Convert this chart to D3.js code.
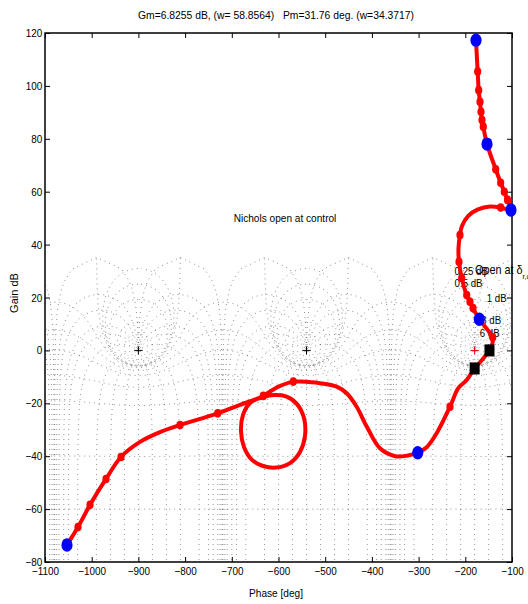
<!DOCTYPE html>
<html>
<head>
<meta charset="utf-8">
<script src="https://cdn.jsdelivr.net/npm/d3@7"></script>
<style>
  body { margin: 0; background: #fff; }
  text { font-family: Arial, "Liberation Sans", Helvetica, sans-serif; fill: #000; white-space: pre; }
</style>
</head>
<body>
<svg id="chart" width="528" height="604"></svg>
<script>
// Open-loop Nichols curve (phase deg, gain dB), low to high frequency
const curvePhase = [-177.1, -173.5, -171.3, -168.5, -166.4, -164.3, -161.5, -153.5, -134.9, -124.2,
  -116.5, -109.6, -102.2, -124.2, -147.1, -172.8, -194.2, -207.1, -211.4, -214.6,
  -213.5, -207.7, -197.0, -190.0, -183.5, -170.0, -155.7, -141.3, -142.8, -148.2,
  -164.3, -180.0, -197.0, -215.0, -232.8, -261.3, -282.7, -301.9, -325.0, -350.0,
  -382.7, -411.1, -432.6, -454.0, -475.4, -511.1, -554.0, -568.3, -601.1, -632.6,
  -661.0, -676.0, -680.3, -673.9, -656.7, -633.2, -605.4, -575.4, -554.0, -543.3,
  -545.4, -560.4, -584.0, -609.6, -632.6, -682.5, -730.2, -768.1, -810.9, -853.8,
  -896.6, -937.3, -969.4, -1003.6, -1029.3, -1042.2, -1052.9];
const curveGain = [117.3, 105.4, 98.4, 94.0, 90.2, 87.1, 84.6, 78.0, 68.5, 63.4,
  60.0, 56.9, 53.1, 54.0, 54.4, 53.3, 50.8, 47.0, 43.6, 38.7,
  33.5, 27.4, 20.9, 18.4, 16.0, 11.8, 8.5, 5.0, 2.0, 0.0,
  -3.6, -6.8, -11.2, -14.3, -21.3, -31.3, -36.6, -38.7, -39.8, -40.0,
  -37.0, -28.8, -21.3, -16.2, -13.7, -12.4, -11.8, -11.8, -13.8, -17.2,
  -19.9, -24.4, -30.5, -36.5, -41.4, -43.7, -44.3, -42.6, -38.4, -32.4,
  -25.6, -20.3, -17.4, -16.9, -17.6, -20.6, -23.8, -25.9, -28.2, -30.9,
  -34.6, -40.3, -48.6, -58.4, -66.8, -70.5, -73.6];

// red frequency markers
const markPhase = [-173.5, -171.3, -168.5, -166.4, -164.3, -161.5, -134.9, -124.2, -116.5, -109.6,
  -124.2, -211.4, -213.5, -207.7, -197.0, -190.0, -183.5, -141.3, -232.8, -568.3,
  -632.6, -730.2, -810.9, -937.3, -969.4, -1003.6, -1029.3];
const markGain = [105.4, 98.4, 94.0, 90.2, 87.1, 84.6, 68.5, 63.4, 60.0, 56.9,
  54.0, 43.6, 33.5, 27.4, 20.9, 18.4, 16.0, 5.0, -21.3, -11.8,
  -17.2, -23.8, -28.2, -40.3, -48.6, -58.4, -66.8];

// blue decade markers
const bluePhase = [-177.1, -153.5, -102.2, -170.0, -301.9, -1052.9];
const blueGain = [117.3, 78.0, 53.1, 11.8, -38.7, -73.6];

// stability margin points (Pm crossing, Gm crossing)
const marginPhase = [-148.24, -180];
const marginGain = [0, -6.8255];

// Nichols grid contours
const gridGains = [6, 3, 1, 0.5, 0.25, 0, -1, -3, -6, -12, -20, -40, -60, -80];
const gridPhases = [1, 5, 10, 20, 30, 50, 90, 120, 150, 180];
const gridShifts = [0, -360, -720, -1080];
const critPhase = [-900, -540, -180];

const gainLabels = ['0.25 dB', '0.5 dB', '1 dB', '3 dB', '6 dB'];
const gainLabelPhase = [-223, -223, -154, -166, -169];
const gainLabelGain = [28.6, 23.9, 18.3, 9.8, 5.1];

const xTicks = d3.range(-1100, -99, 100);
const yTicks = d3.range(-80, 121, 20);

const margin = { top: 33, right: 16, bottom: 42, left: 45 };
const width = 528 - margin.left - margin.right;
const height = 604 - margin.top - margin.bottom;

const svg = d3.select('#chart');
const g = svg.append('g').attr('transform', `translate(${margin.left},${margin.top})`);

const x = d3.scaleLinear().domain([-1100, -100]).range([0, width]);
const y = d3.scaleLinear().domain([-80, 120]).range([height, 0]);

// clip for grid: plot box, grid stops at the top of the 1 deg phase contour
svg.append('defs').append('clipPath').attr('id', 'gridclip')
  .append('rect')
  .attr('x', 0).attr('y', y(35.3))
  .attr('width', width).attr('height', height - y(35.3));

// open loop point from closed loop magnitude / phase
function openLoop(M, phiDeg) {
  const t = phiDeg * Math.PI / 180;
  const tr = M * Math.cos(t), ti = M * Math.sin(t);
  const dr = 1 - tr, di = -ti;
  const den = dr * dr + di * di;
  const gr = (tr * dr + ti * di) / den;
  const gi = (ti * dr - tr * di) / den;
  let p = Math.atan2(gi, gr) * 180 / Math.PI;
  if (p > 0) p -= 360;
  return [p, 20 * Math.log10(Math.hypot(gr, gi))];
}

// split a contour where the phase wraps
function splitWraps(pts) {
  const out = [];
  let cur = [];
  pts.forEach((d, i) => {
    if (i > 0 && Math.abs(d[0] - pts[i - 1][0]) > 90) { out.push(cur); cur = []; }
    if (isFinite(d[1])) cur.push(d);
  });
  out.push(cur);
  return out.filter(c => c.length > 1);
}

const contours = [];
gridGains.forEach(db => {
  const M = Math.pow(10, db / 20);
  const pts = d3.range(0.05, 360, 0.25).map(phi => openLoop(M, phi));
  contours.push(...splitWraps(pts));
});
gridPhases.forEach(ph => {
  const mags = d3.range(-5, 5, 0.01).map(e => Math.pow(10, e));
  [ph, -ph].forEach((s, j) => {
    if (ph === 180 && j === 1) return;
    contours.push(...splitWraps(mags.map(M => openLoop(M, s))));
  });
});

const gridLayer = g.append('g').attr('clip-path', 'url(#gridclip)');
gridShifts.forEach(shift => {
  const line = d3.line().x(d => x(d[0] + shift)).y(d => y(d[1]));
  gridLayer.selectAll(null)
    .data(contours)
    .enter()
    .append('path')
    .attr('d', line)
    .attr('fill', 'none')
    .attr('stroke', '#000')
    .attr('stroke-width', 0.7)
    .attr('stroke-dasharray', '0.8,4.2')
    .attr('opacity', 0.8);
});

// grid gain labels
g.selectAll('.glabel')
  .data(gainLabels)
  .enter()
  .append('text')
  .attr('class', 'glabel')
  .attr('transform', (d, i) => `translate(${x(gainLabelPhase[i])},${y(gainLabelGain[i])}) scale(0.88,1)`)
  .style('font-size', '11px')
  .text(d => d);

// critical point crosses
g.selectAll('.crit')
  .data(critPhase)
  .enter()
  .append('path')
  .attr('class', 'crit')
  .attr('d', d => `M${x(d) - 4},${y(0)}H${x(d) + 4}M${x(d)},${y(0) - 4}V${y(0) + 4}`)
  .attr('stroke', d => d === -180 ? '#e00000' : '#000')
  .attr('stroke-width', 1);

// axes: ticks inside on all four sides
const fmt = d => (d < 0 ? '\u2212' + Math.abs(d) : d);
const xAxis = g.append('g')
  .attr('transform', `translate(0,${height})`)
  .call(d3.axisBottom(x).tickValues(xTicks).tickSizeInner(-5).tickSizeOuter(0).tickPadding(5).tickFormat(fmt));
const yAxis = g.append('g')
  .call(d3.axisLeft(y).tickValues(yTicks).tickSizeInner(-5).tickSizeOuter(0).tickPadding(3).tickFormat(fmt));
g.append('g')
  .call(d3.axisTop(x).tickValues(xTicks).tickSizeInner(-5).tickSizeOuter(0).tickFormat(''));
g.append('g')
  .attr('transform', `translate(${width},0)`)
  .call(d3.axisRight(y).tickValues(yTicks).tickSizeInner(-5).tickSizeOuter(0).tickFormat(''));

g.selectAll('.domain').remove();
g.selectAll('.tick line').attr('stroke', '#000').attr('stroke-width', 1);
[xAxis, yAxis].forEach(a => a.selectAll('text')
  .style('font-size', '11px')
  .style('font-family', 'Arial, "Liberation Sans", sans-serif')
  .attr('transform', 'scale(0.9,1)'));

g.append('rect')
  .attr('width', width).attr('height', height)
  .attr('fill', 'none').attr('stroke', '#000').attr('stroke-width', 1.5);

// Nichols curve
const curve = curvePhase.map((p, i) => [p, curveGain[i]]);
g.append('path')
  .datum(curve)
  .attr('d', d3.line().x(d => x(d[0])).y(d => y(d[1])).curve(d3.curveCatmullRom.alpha(0.5)))
  .attr('fill', 'none')
  .attr('stroke', '#ff0000')
  .attr('stroke-width', 4)
  .attr('stroke-linejoin', 'round');

g.selectAll('.mark')
  .data(markPhase)
  .enter()
  .append('ellipse')
  .attr('cx', d => x(d))
  .attr('cy', (d, i) => y(markGain[i]))
  .attr('rx', 3.6).attr('ry', 4.3)
  .attr('fill', '#ff0000');

g.selectAll('.blue')
  .data(bluePhase)
  .enter()
  .append('ellipse')
  .attr('cx', d => x(d))
  .attr('cy', (d, i) => y(blueGain[i]))
  .attr('rx', 5.6).attr('ry', 6.7)
  .attr('fill', '#0000ff');

g.selectAll('.marginpt')
  .data(marginPhase)
  .enter()
  .append('rect')
  .attr('x', d => x(d) - 5)
  .attr('y', (d, i) => y(marginGain[i]) - 6)
  .attr('width', 10).attr('height', 12)
  .attr('fill', '#000');

// texts
svg.append('text')
  .attr('x', 276).attr('y', 18.5)
  .attr('text-anchor', 'middle')
  .attr('textLength', 276).attr('lengthAdjust', 'spacingAndGlyphs')
  .style('font-size', '11px')
  .text('Gm=6.8255 dB, (w= 58.8564)\u00a0\u00a0\u00a0Pm=31.76 deg. (w=34.3717)');

svg.append('text')
  .attr('transform', 'translate(276,597) scale(0.92,1)')
  .attr('text-anchor', 'middle')
  .style('font-size', '11px')
  .text('Phase [deg]');

svg.append('text')
  .attr('transform', 'translate(18,293) rotate(-90)')
  .attr('text-anchor', 'middle')
  .style('font-size', '11px')
  .text('Gain dB');

svg.append('text')
  .attr('transform', 'translate(285,222) scale(0.92,1)')
  .attr('text-anchor', 'middle')
  .style('font-size', '11px')
  .text('Nichols open at control');

const openLbl = svg.append('text')
  .attr('transform', 'translate(475,274) scale(0.9,1)')
  .style('font-size', '12px');
openLbl.append('tspan').text('Open at \u03b4');
openLbl.append('tspan').attr('dy', 5).style('font-size', '8px').text('r,c');
</script>
</body>
</html>
